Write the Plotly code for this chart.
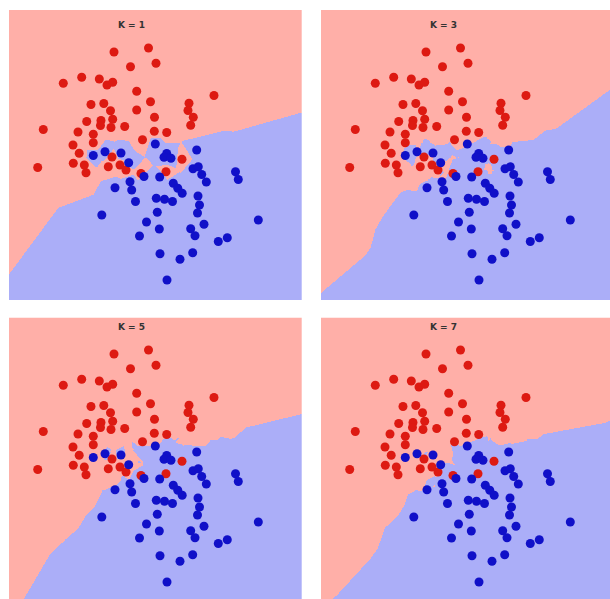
import numpy as np
import plotly.graph_objects as go

# Two-class sample: class 0 (red) and class 1 (blue)
red_x = [105, 139.5, 147, 121.5, 54.3, 72.7, 90.3, 98, 103.7, 127.7, 141.5, 82, 94.8,
         101.5, 127.7, 145.5, 77.7, 92, 103.7, 91.5, 102, 115.7, 34.3, 69, 84.3, 145.3,
         133.5, 64, 84.3, 70.2, 103, 205, 180, 179, 184.3, 181.7, 157.7, 173, 64.3,
         75.3, 77, 28.7, 99.3, 111, 117, 132, 157]
red_y = [248, 252, 236.7, 233.3, 216.7, 222.7, 221, 215, 217.7, 208.7, 198.3, 195.5, 196.5,
         189.3, 190, 182.7, 178.5, 179.5, 180.7, 174.5, 172.5, 173.5, 170.5, 168, 165.8, 168.7,
         160.3, 155, 157.3, 146.7, 143, 204.5, 196.7, 189.5, 182.7, 174.8, 167.5, 140.7, 136.7,
         135, 127.3, 132.5, 133.3, 135, 130, 126.5, 128.3]

blue_x = [146.3, 84.3, 96, 112, 187.7, 157.7, 155, 162, 119.7, 135, 106, 121, 122.7,
          126.5, 184, 189.3, 192.7, 197.3, 226.5, 229.3, 150.7, 164.3, 168.8, 173.2, 147.3,
          155.5, 163.5, 189, 190.5, 148.3, 188.5, 137.5, 195, 249.3, 150.3, 181.7, 186,
          130.5, 209.3, 218.3, 151, 171, 183.7, 158, 92.8]
blue_y = [156, 144.5, 148.3, 147, 150, 146.5, 142.7, 141.7, 137.3, 123.5, 112.3, 118.3, 110,
          98.5, 131.2, 133.3, 125.5, 118, 128.3, 120.5, 123, 116.7, 111.7, 106.7, 101.7,
          100.7, 98.5, 104, 95, 87.7, 87, 78, 75.8, 80, 71, 71.3, 64.2,
          64, 58.5, 62.3, 46.3, 40.8, 47.3, 20, 85]

k_values = [1, 3, 5, 7]
titles = ["K = 1", "K = 3", "K = 5", "K = 7"]

W, H = 610, 599

pts = np.column_stack([np.r_[red_x, blue_x], np.r_[red_y, blue_y]]).astype(float)
labels = np.r_[np.zeros(len(red_x)), np.ones(len(blue_x))]

gx = np.arange(-2.0, 297.0, 1.0)
gy = np.arange(-2.0, 297.0, 1.0)
GX, GY = np.meshgrid(gx, gy)
grid = np.column_stack([GX.ravel(), GY.ravel()])
d2 = ((grid[:, None, :] - pts[None, :, :]) ** 2).sum(axis=2)
order = np.argsort(d2, axis=1)


def knn_regions(k):
    votes = labels[order[:, :k]].mean(axis=1)
    return (votes > 0.5).astype(float).reshape(GX.shape)


# panel layout in pixels: (left, right, top, bottom) of visible area, plus axis ranges
panels = [
    dict(px=(9, 301.7), py=(10, 300), xr=(0, 292.7), yr=(0, 290)),
    dict(px=(321, 610), py=(10, 300), xr=(0, 289), yr=(0, 290)),
    dict(px=(9, 301.7), py=(317.7, 599), xr=(0, 292.7), yr=(3, 284.3)),
    dict(px=(321, 610), py=(317.7, 599), xr=(0, 289), yr=(3, 284.3)),
]
title_pos = [(131, 25), (443, 25), (131, 327), (443, 327)]

light = [[0, "#FFAFA8"], [0.5, "#FFAFA8"], [0.5, "#ABAEF8"], [1, "#ABAEF8"]]

fig = go.Figure()
layout = dict(width=W, height=H, margin=dict(l=0, r=0, t=0, b=0),
              paper_bgcolor="white", plot_bgcolor="white", showlegend=False)

for i, (k, p) in enumerate(zip(k_values, panels)):
    xa = "x" if i == 0 else f"x{i + 1}"
    ya = "y" if i == 0 else f"y{i + 1}"
    fig.add_trace(go.Heatmap(x=gx, y=gy, z=knn_regions(k), colorscale=light,
                             zmin=0, zmax=1, showscale=False, hoverinfo="skip",
                             xaxis=xa, yaxis=ya))
    fig.add_trace(go.Scatter(x=red_x, y=red_y, mode="markers", xaxis=xa, yaxis=ya,
                             marker=dict(size=9, color="#DD1A12", line=dict(width=0))))
    fig.add_trace(go.Scatter(x=blue_x, y=blue_y, mode="markers", xaxis=xa, yaxis=ya,
                             marker=dict(size=9, color="#1010C8", line=dict(width=0))))
    ax_common = dict(showgrid=False, zeroline=False, showticklabels=False,
                     ticks="", showline=False, fixedrange=True)
    xk = "xaxis" if i == 0 else f"xaxis{i + 1}"
    yk = "yaxis" if i == 0 else f"yaxis{i + 1}"
    layout[xk] = dict(domain=[p["px"][0] / W, min(p["px"][1] / W, 1)],
                      range=list(p["xr"]), anchor=ya, **ax_common)
    layout[yk] = dict(domain=[max(1 - p["py"][1] / H, 0), 1 - p["py"][0] / H],
                      range=list(p["yr"]), anchor=xa, **ax_common)

annotations = []
for t, (tx, ty) in zip(titles, title_pos):
    annotations.append(dict(text=f"<b>{t}</b>", x=tx / W, y=1 - ty / H, xref="paper",
                            yref="paper", showarrow=False, xanchor="center",
                            yanchor="middle",
                            font=dict(family="DejaVu Sans", size=9, color="#333333")))
layout["annotations"] = annotations

fig.update_layout(**layout)
fig.write_html("out.html")
